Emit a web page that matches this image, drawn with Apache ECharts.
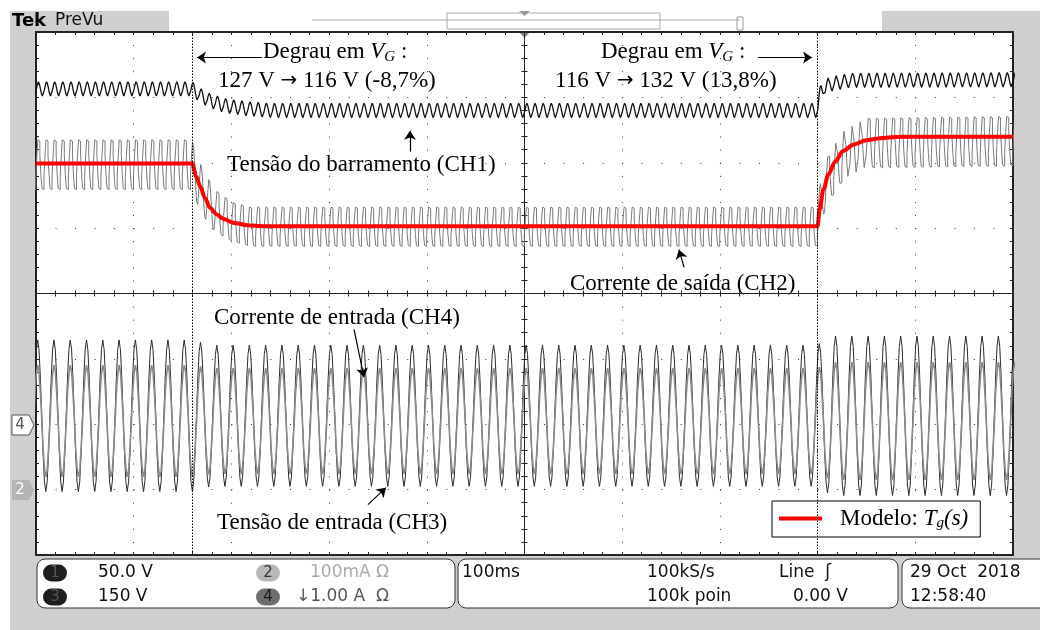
<!DOCTYPE html>
<html>
<head>
<meta charset="utf-8">
<title>Degrau em VG</title>
<script src="https://cdn.jsdelivr.net/npm/echarts@6/dist/echarts.min.js"></script>
<style>
html, body { margin: 0; padding: 0; background: #fff; }
#main { width: 1040px; height: 630px; }
</style>
</head>
<body>
<div id="main"></div>
<script>
// tempo em ms (gatilho no centro da tela), eixo vertical em divisoes
var stepTimes = [-340, 300];

var ch1Cycle = [1, 0.7, 0.05, -0.65, -1, -0.75, -0.1, 0.6];                       // 120 Hz
var ch2Cycle = [1, 0.95, 0.4, -0.4, -0.95, -1, -0.45, 0.35];                        // 120 Hz
var ch3Cycle = [1, 0.87, 0.5, 0, -0.5, -0.87, -1, -0.87, -0.5, 0, 0.5, 0.87];       // 60 Hz
var ch4Cycle = [0.9, 0.8, 0.45, 0.05, -0.45, -0.75, -0.9, -0.8, -0.45, -0.05, 0.45, 0.75];

// envoltorias lidas: [t, nivel medio, meia amplitude]
var ch1Env = [[-500, 3.13, 0.11], [-340, 3.13, 0.11], [-332, 3.03, 0.11], [-322, 2.95, 0.11],
              [-307, 2.875, 0.11], [-286, 2.83, 0.11], [-260, 2.8, 0.11], [300, 2.8, 0.11],
              [303, 3.1, 0.11], [312, 3.2, 0.11], [333, 3.26, 0.11], [500, 3.27, 0.11]];
var ch2Env = [[-500, 1.97, 0.38], [-340, 1.97, 0.38], [-335, 1.75, 0.36], [-327, 1.5, 0.34],
              [-315, 1.25, 0.32], [-300, 1.1, 0.3], [-280, 1.02, 0.3], [300, 1.02, 0.3],
              [303, 1.35, 0.32], [311, 1.75, 0.35], [326, 2.1, 0.37], [350, 2.3, 0.38], [500, 2.33, 0.38]];
var ch3Env = [[-500, -1.87, 1.16], [-340, -1.87, 1.16], [-320, -1.87, 1.08], [300, -1.87, 1.08],
              [315, -1.87, 1.22], [500, -1.87, 1.22]];
var ch4Env = [[-500, -1.95, 0.95], [-340, -1.95, 0.95], [-320, -1.95, 0.9], [300, -1.95, 0.9],
              [315, -1.95, 1.0], [500, -1.95, 1.0]];

// modelo Tg(s) (linha vermelha)
var modelPts = [[-500, 1.99], [-340, 1.99], [-336, 1.79], [-332, 1.64], [-327, 1.46], [-322, 1.31],
                [-315, 1.21], [-308, 1.14], [-297, 1.08], [-284, 1.045], [-268, 1.03], [300, 1.03],
                [302, 1.285], [306, 1.59], [311, 1.82], [318, 2.02], [326, 2.18], [337, 2.28],
                [350, 2.345], [367, 2.38], [385, 2.397], [500, 2.397]];

// setas das anotacoes: [inicio, ponta]
var arrows = [
    [[-268.7, 3.61], [-335.2, 3.61]],
    [[239.0, 3.61], [294.3, 3.61]],
    [[-117.2, 2.17], [-117.2, 2.49]],
    [[163.3, 0.40], [158.1, 0.67]],
    [[-174.5, -0.55], [-164.3, -1.28]],
    [[-160.2, -3.23], [-141.8, -2.97]]
];

var firstPeak = -497.6;

function envAt(env, t) {
    for (var i = 1; i < env.length; i++) {
        if (t <= env[i][0]) {
            var a = env[i - 1], b = env[i], f = (t - a[0]) / (b[0] - a[0]);
            if (f < 0) f = 0;
            return [a[1] + f * (b[1] - a[1]), a[2] + f * (b[2] - a[2])];
        }
    }
    var last = env[env.length - 1];
    return [last[1], last[2]];
}

function trace(cycle, period, env) {
    var pts = [], dt = period / cycle.length;
    var n = Math.ceil((500 - firstPeak + 2 * period) / dt);
    for (var i = 0; i < n; i++) {
        var t = firstPeak - period + i * dt;
        var e = envAt(env, t);
        pts.push([t, e[0] + e[1] * cycle[i % cycle.length]]);
    }
    return pts;
}

var ch1Data = trace(ch1Cycle, 1000 / 120, ch1Env);
var ch2Data = trace(ch2Cycle, 1000 / 120, ch2Env);
var ch3Data = trace(ch3Cycle, 1000 / 60, ch3Env);
var ch4Data = trace(ch4Cycle, 1000 / 60, ch4Env);

var tickCol = '#222';
function hAxis(pos, onZero, inside, lw, split) {
    return {
        type: 'value', min: -500, max: 500, interval: 100, position: pos,
        axisLine: { show: true, onZero: onZero, onZeroAxisIndex: 0, lineStyle: { color: '#222', width: lw } },
        axisTick: { show: true, inside: inside, length: 3, lineStyle: { color: tickCol } },
        minorTick: { show: true, splitNumber: 5, length: 3, lineStyle: { color: tickCol } },
        axisLabel: { show: false },
        splitLine: { show: split, lineStyle: { color: '#333', width: 1, type: [1, 12.075] } },
        minorSplitLine: { show: false }
    };
}
function vAxis(pos, onZero, inside, lw, split) {
    return {
        type: 'value', min: -4, max: 4, interval: 1, position: pos,
        axisLine: { show: true, onZero: onZero, onZeroAxisIndex: 0, lineStyle: { color: '#222', width: lw } },
        axisTick: { show: true, inside: inside, length: 3, lineStyle: { color: tickCol } },
        minorTick: { show: true, splitNumber: 5, length: 3, lineStyle: { color: tickCol } },
        axisLabel: { show: false },
        splitLine: { show: split, lineStyle: { color: '#333', width: 1, type: [1, 18.54] } },
        minorSplitLine: { show: false }
    };
}

var serif = 'Liberation Serif';
var sans = 'DejaVu Sans';
var fs = 23;
var richSerif = {
    n: { fontFamily: serif, fontSize: fs, color: '#000' },
    i: { fontFamily: serif, fontSize: fs, fontStyle: 'italic', color: '#000' },
    s: { fontFamily: serif, fontSize: 15, fontStyle: 'italic', color: '#000', padding: [10, 0, 0, 0] },
    r: { fontFamily: 'DejaVu Sans', fontSize: 20, color: '#000' }
};

function label(x, y, txt) {
    return { type: 'text', x: x, y: y, silent: true,
        style: { text: txt, fontFamily: serif, fontSize: fs, fill: '#000', verticalAlign: 'middle', rich: richSerif } };
}
function scopeText(x, y, txt, col) {
    return { type: 'text', x: x, y: y, silent: true,
        style: { text: txt, fontFamily: sans, fontSize: 17, fill: col || '#111', verticalAlign: 'middle' } };
}
function badge(cx, cy, num, bg, fg) {
    return { type: 'group', silent: true, children: [
        { type: 'rect', shape: { x: cx - 12, y: cy - 8.5, width: 24, height: 17, r: 8.5 }, style: { fill: bg } },
        { type: 'text', x: cx, y: cy, style: { text: num, fontFamily: sans, fontSize: 15, fill: fg, align: 'center', verticalAlign: 'middle' } }
    ] };
}

var gray = '#cfcfcf';
var graphics = [
    { type: 'rect', silent: true, shape: { x: 10, y: 11, width: 1030, height: 20 }, style: { fill: gray } },
    { type: 'rect', silent: true, shape: { x: 10, y: 11, width: 25, height: 619 }, style: { fill: gray } },
    { type: 'rect', silent: true, shape: { x: 1014, y: 11, width: 26, height: 619 }, style: { fill: gray } },
    { type: 'rect', silent: true, shape: { x: 10, y: 556, width: 1030, height: 74 }, style: { fill: gray } },
    { type: 'rect', silent: true, shape: { x: 169, y: 11, width: 713, height: 20 }, style: { fill: '#fff' } },
    { type: 'line', silent: true, shape: { x1: 312, y1: 20, x2: 740, y2: 20 }, style: { stroke: '#aaa', lineWidth: 1 } },
    { type: 'rect', silent: true, shape: { x: 447, y: 13, width: 213, height: 16 }, style: { fill: 'none', stroke: '#aaa', lineWidth: 1 } },
    { type: 'polygon', silent: true, shape: { points: [[519, 11], [530, 11], [524.5, 16]] }, style: { fill: '#999' } },
    { type: 'rect', silent: true, shape: { x: 737, y: 17, width: 6, height: 13 }, style: { fill: 'none', stroke: '#999', lineWidth: 1 } },
    { type: 'polygon', silent: true, shape: { points: [[519, 32], [530, 32], [524.5, 38]] }, style: { fill: '#888' } },
    { type: 'text', x: 12, y: 21, silent: true, style: { text: 'Tek', fontFamily: sans, fontWeight: 'bold', fontSize: 18, fill: '#000', verticalAlign: 'middle' } },
    { type: 'text', x: 55, y: 21, silent: true, style: { text: 'PreVu', fontFamily: sans, fontSize: 17, fill: '#111', verticalAlign: 'middle' } },
    // marcadores de canal
    { type: 'polygon', silent: true, shape: { points: [[12, 415], [29, 415], [34, 425], [29, 435], [12, 435]] }, style: { fill: '#fff', stroke: '#555', lineWidth: 1 } },
    { type: 'text', x: 20, y: 425, silent: true, style: { text: '4', fontFamily: sans, fontSize: 15, fill: '#555', align: 'center', verticalAlign: 'middle' } },
    { type: 'polygon', silent: true, shape: { points: [[12, 480], [29, 480], [34, 490], [29, 500], [12, 500]] }, style: { fill: '#b4b4b4' } },
    { type: 'text', x: 20, y: 490, silent: true, style: { text: '2', fontFamily: sans, fontSize: 15, fill: '#fff', align: 'center', verticalAlign: 'middle' } },
    // caixas inferiores
    { type: 'rect', silent: true, shape: { x: 37, y: 559, width: 418, height: 49, r: 8 }, style: { fill: '#fff', stroke: '#333', lineWidth: 1 } },
    { type: 'rect', silent: true, shape: { x: 458, y: 559, width: 440, height: 49, r: 8 }, style: { fill: '#fff', stroke: '#333', lineWidth: 1 } },
    { type: 'rect', silent: true, shape: { x: 902, y: 559, width: 150, height: 49, r: 8 }, style: { fill: '#fff', stroke: '#333', lineWidth: 1 } },
    badge(55, 573, '1', '#1e1e1e', '#555'),
    badge(55, 597, '3', '#1e1e1e', '#555'),
    badge(268, 573, '2', '#b8b8b8', '#333'),
    badge(268, 597, '4', '#6e6e6e', '#1a1a1a'),
    scopeText(98, 573, '50.0 V'),
    scopeText(98, 597, '150 V'),
    scopeText(310, 573, '100mA \u03a9', '#aaa'),
    scopeText(296, 597, '\u21931.00 A  \u03a9', '#555'),
    scopeText(462, 573, '100ms'),
    scopeText(647, 573, '100kS/s'),
    scopeText(779, 573, 'Line  \u0283'),
    scopeText(647, 597, '100k poin'),
    scopeText(793, 597, '0.00 V'),
    scopeText(910, 573, '29 Oct  2018'),
    scopeText(910, 597, '12:58:40'),
    // anotacoes
    label(263, 52, '{n|Degrau em }{i|V}{s|G}{n| :}'),
    label(218, 81, '{n|127 V }{r|\u2192}{n| 116 V (-8,7%)}'),
    label(601, 52, '{n|Degrau em }{i|V}{s|G}{n| :}'),
    label(555, 81, '{n|116 V }{r|\u2192}{n| 132 V (13,8%)}'),
    label(227, 165, 'Tens\u00e3o do barramento (CH1)'),
    label(570, 284, 'Corrente de sa\u00edda (CH2)'),
    label(214, 318, 'Corrente de entrada (CH4)'),
    label(217, 523, 'Tens\u00e3o de entrada (CH3)')
];

var stepLines = {
    silent: true, symbol: 'none', label: { show: false },
    lineStyle: { color: '#000', width: 1, type: [1.5, 1.5] },
    data: stepTimes.map(function (t) { return { xAxis: t }; })
};
var arrowLines = {
    silent: true, symbol: ['none', 'arrow'], symbolSize: 9, label: { show: false },
    lineStyle: { color: '#000', width: 1.2, type: 'solid' },
    data: arrows.map(function (a) { return [{ coord: a[0] }, { coord: a[1] }]; })
};

var option = {
    animation: false,
    backgroundColor: '#fff',
    grid: { left: 36, right: 27, top: 32, bottom: 75, containLabel: false, outerBoundsMode: 'none' },
    xAxis: [
        hAxis('bottom', false, true, 2, true),
        hAxis('top', false, true, 2, false),
        hAxis('bottom', true, false, 1, false),
        hAxis('bottom', true, true, 1, false)
    ],
    yAxis: [
        vAxis('left', false, true, 2, true),
        vAxis('right', false, true, 2, false),
        vAxis('left', true, false, 1, false),
        vAxis('left', true, true, 1, false)
    ],
    legend: {
        data: ['Modelo'], left: 772, top: 501, selectedMode: false,
        backgroundColor: '#fff', borderColor: '#000', borderWidth: 1, borderRadius: 0,
        padding: [6, 12, 6, 7], icon: 'rect', itemWidth: 43, itemHeight: 4,
        formatter: function () { return '{m|Modelo: }{i|T}{s|g}{i|(s)}'; },
        textStyle: {
            rich: {
                m: { fontFamily: serif, fontSize: fs, color: '#000', padding: [0, 0, 0, 13] },
                i: { fontFamily: serif, fontSize: fs, fontStyle: 'italic', color: '#000' },
                s: { fontFamily: serif, fontSize: 15, fontStyle: 'italic', color: '#000', padding: [10, 0, 0, 0] }
            }
        }
    },
    series: [
        { name: 'CH3', type: 'line', data: ch3Data, symbol: 'none', step: 'middle', silent: true,
          lineStyle: { color: '#2a2a2a', width: 1 }, z: 2, markLine: stepLines },
        { name: 'CH4', type: 'line', data: ch4Data, symbol: 'none', step: 'middle', silent: true,
          lineStyle: { color: '#8a8a8a', width: 1.6 }, z: 2 },
        { name: 'CH2', type: 'line', data: ch2Data, symbol: 'none', step: 'middle', silent: true,
          lineStyle: { color: '#7a7a7a', width: 1 }, z: 3 },
        { name: 'CH1', type: 'line', data: ch1Data, symbol: 'none', silent: true,
          lineStyle: { color: '#111', width: 1.3 }, z: 3 },
        { name: 'Modelo', type: 'line', data: modelPts, symbol: 'none', silent: true,
          smooth: 0.3, smoothMonotone: 'x', color: '#ff0000',
          lineStyle: { color: '#ff0000', width: 4 }, z: 4, markLine: arrowLines }
    ],
    graphic: { elements: graphics }
};

var chart = echarts.init(document.getElementById('main'));
chart.setOption(option);
</script>
</body>
</html>
